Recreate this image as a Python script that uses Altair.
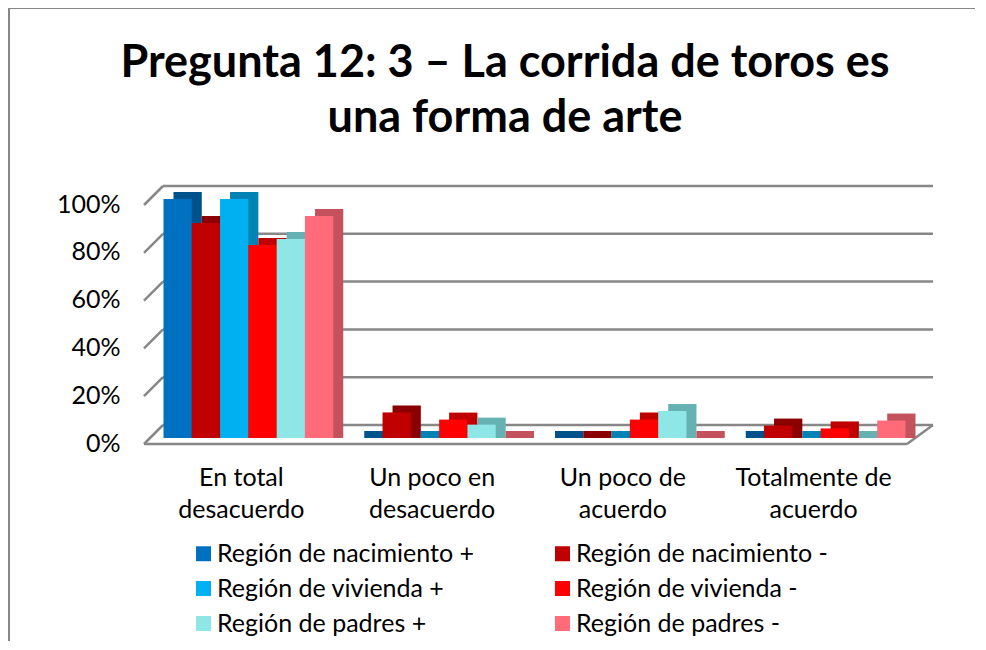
import altair as alt
import pandas as pd

# ---------------- data ----------------
categories = ["En total|desacuerdo", "Un poco en|desacuerdo", "Un poco de|acuerdo", "Totalmente de|acuerdo"]
series = [
    "Región de nacimiento +",
    "Región de nacimiento -",
    "Región de vivienda +",
    "Región de vivienda -",
    "Región de padres +",
    "Región de padres -",
]
nacimiento_pos = [100, 0, 0, 0]
nacimiento_neg = [90, 10.7, 0, 5.2]
vivienda_pos = [100, 0, 0, 0]
vivienda_neg = [80.8, 7.7, 7.7, 4]
padres_pos = [83.3, 5.6, 11.3, 0]
padres_neg = [92.9, 0, 0, 7.3]
y_ticks = [0, 20, 40, 60, 80, 100]
title_lines = ["Pregunta 12: 3 – La corrida de toros es", "una forma de arte"]

front_colors = ["#0070C0", "#C00000", "#00B0F0", "#FF0000", "#8EE6E6", "#FF6B78"]
side_colors = ["#00528C", "#8B0000", "#0082B4", "#C00000", "#66B2B2", "#C4525C"]
GRAY = "#878787"

rows = []
for s, vals in zip(series, [nacimiento_pos, nacimiento_neg, vivienda_pos,
                            vivienda_neg, padres_pos, padres_neg]):
    for c, v in zip(categories, vals):
        rows.append({"cat": c, "serie": s, "valor": v})
df = pd.DataFrame(rows)
grid = pd.DataFrame({"v": y_ticks})

# ---------------- layout ----------------
W, H = 763, 239
PAD_L, PAD_T, PAD_R, PAD_B = 145, 191, 60, 204
step = W / 4
band = step * (1 - 0.11)
DX, DY = 10, 7

xscale = alt.Scale(domain=categories, paddingInner=0.11, paddingOuter=0.055)
yscale = alt.Scale(domain=[0, 100], nice=False)

x_axis = alt.Axis(
    title=None, labelAngle=0, domain=False, ticks=False, grid=False,
    labelExpr="split(datum.label, '|')", labelFont="Lato", labelFontSize=25,
    labelLineHeight=32, labelPadding=27, labelOffset=-7, labelColor="black")
y_axis = alt.Axis(
    title=None, values=y_ticks, labelExpr="datum.value + '%'", domain=False,
    ticks=False, grid=False, labelFont="Lato", labelFontSize=25,
    labelPadding=33, labelOffset=5, labelColor="black")

Yg = alt.Y("v:Q", scale=yscale, axis=y_axis)

# back wall gridlines
back = alt.Chart(grid).mark_rule(color=GRAY, strokeWidth=2.5, yOffset=-13).encode(
    y=Yg, x=alt.value(10), x2=alt.value(780),
)
# left wall diagonals
wall = alt.Chart(grid).mark_rule(color=GRAY, strokeWidth=2.5, yOffset=6, y2Offset=-13).encode(
    y=Yg, y2="v:Q", x=alt.value(-9), x2=alt.value(10),
)
floor_src = alt.Chart(grid).transform_filter("datum.v == 0")
floor_front = floor_src.mark_rule(color=GRAY, strokeWidth=2.5, yOffset=6).encode(
    y=Yg, x=alt.value(-9), x2=alt.value(754),
)
floor_right = floor_src.mark_rule(color=GRAY, strokeWidth=2.5, yOffset=6, y2Offset=-13).encode(
    y=Yg, y2="v:Q", x=alt.value(754), x2=alt.value(780),
)
# chart frame: only the left and top edges are visible in the reference
frame_left = floor_src.mark_rule(color=GRAY, strokeWidth=2).encode(
    x=alt.value(-144), y=alt.value(-191), y2=alt.value(H + PAD_B - 1),
)
frame_top = floor_src.mark_rule(color=GRAY, strokeWidth=2).encode(
    x=alt.value(-144), x2=alt.value(W + PAD_R - 1), y=alt.value(-191),
)
title = floor_src.mark_text(
    align="center", baseline="alphabetic", font="Lato", fontSize=45,
    fontWeight="bold", color="black", lineHeight=55,
).encode(x=alt.value(352), y=alt.value(-122), text=alt.value(title_lines))

shadow = alt.Chart(df).mark_bar(yOffset=-DY).encode(
    x=alt.X("cat:N", scale=xscale, axis=x_axis),
    xOffset=alt.XOffset("serie:N", scale=alt.Scale(domain=series, range=[DX, band + DX])),
    y=alt.Y("valor:Q", scale=yscale, axis=y_axis, stack=None),
    color=alt.Color("serie:N", scale=alt.Scale(domain=series, range=side_colors), legend=None),
)

front = alt.Chart(df).mark_bar().encode(
    x=alt.X("cat:N", scale=xscale, axis=x_axis),
    xOffset=alt.XOffset("serie:N", scale=alt.Scale(domain=series, range=[0, band])),
    y=alt.Y("valor:Q", scale=yscale, axis=y_axis, stack=None),
    color=alt.Color("serie:N", scale=alt.Scale(domain=series, range=front_colors),
                    legend=alt.Legend(
                        title=None, orient="none", legendX=38, legendY=342, columns=2,
                        direction="horizontal",
                        symbolType="square", symbolSize=225, symbolStrokeWidth=0,
                        labelFont="Lato", labelFontSize=25, labelColor="black",
                        labelOffset=1, rowPadding=9, columnPadding=75,
                        labelLimit=400)),
)

chart = alt.layer(frame_left, frame_top, title, back, wall, floor_front, floor_right,
                  shadow, front).resolve_scale(
    color="independent", xOffset="independent"
).properties(
    width=W, height=H,
    padding={"left": PAD_L, "top": PAD_T, "right": PAD_R, "bottom": PAD_B},
    autosize=alt.AutoSizeParams(type="none"),
).configure_view(stroke=None)

chart.save("out.html", embed_options={"renderer": "svg", "actions": False})
